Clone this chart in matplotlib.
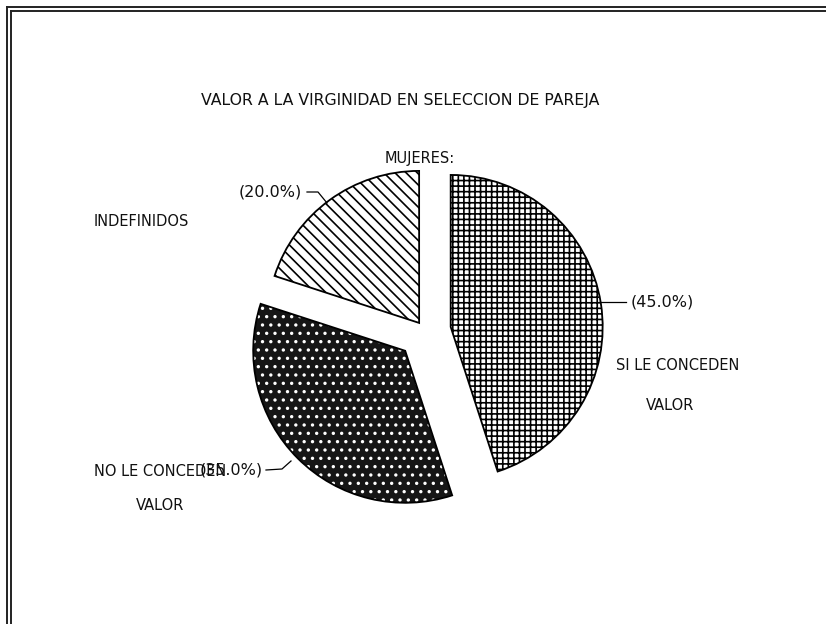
import matplotlib
matplotlib.use("Agg")
import matplotlib.pyplot as plt
from matplotlib.lines import Line2D

plt.rcParams.update({"font.family": "DejaVu Sans", "hatch.linewidth": 1.2})

# Data
categories = ["SI LE CONCEDEN\nVALOR", "NO LE CONCEDEN\nVALOR", "INDEFINIDOS"]
shares = [45.0, 35.0, 20.0]
pct_labels = ["(45.0%)", "(35.0%)", "(20.0%)"]
title = "VALOR A LA VIRGINIDAD EN SELECCION DE PAREJA"
subtitle = "MUJERES:"

W, H = 826, 624
fig = plt.figure(figsize=(W / 100, H / 100), dpi=100)
ax = fig.add_axes([0, 0, 1, 1])


def py(y):  # image row -> data y
    return H - y


center = (425, py(331))
radius = 152
# offsets are in data units (pixels) because pie does not scale them
explode = [26, 28, 10]

wedges, _ = ax.pie(shares, radius=radius, center=center, startangle=90,
                   counterclock=False, explode=explode, frame=True)
styles = [
    dict(facecolor="white", edgecolor="black", hatch="+++"),
    dict(facecolor="#161616", edgecolor="white", hatch=".."),
    dict(facecolor="white", edgecolor="black", hatch="\\\\\\"),
]
for w, st in zip(wedges, styles):
    w.set_facecolor(st["facecolor"])
    w.set_edgecolor(st["edgecolor"])
    w.set_hatch(st["hatch"])
    w.set_linewidth(0)

# outlines on top
ax.pie(shares, radius=radius, center=center, startangle=90,
       counterclock=False, explode=explode, frame=True,
       wedgeprops=dict(fill=False, edgecolor="black", lw=1.3))
ax.set_xlim(0, W)
ax.set_ylim(0, H)
ax.set_aspect("equal")
ax.axis("off")

txt = dict(color="#111111", fontsize=10.5)
ax.text(400, py(101), title, ha="center", va="center", color="#111111",
        fontsize=11.3)
ax.text(420, py(158), subtitle, ha="center", va="center", **txt)

# percentage labels + leader lines
pct = dict(ha="center", va="center", fontsize=11.5, color="#111111")
ax.text(270, py(192), pct_labels[2], **pct)
ax.add_line(Line2D([307, 318, 327], [py(192), py(192), py(203)],
                   color="black", lw=0.9))
ax.text(662, py(302), pct_labels[0], **pct)
ax.add_line(Line2D([599, 626], [py(302), py(302)], color="black", lw=0.9))
ax.text(231, py(470), pct_labels[1], **pct)
ax.add_line(Line2D([266, 282, 291], [py(470), py(469), py(461)],
                   color="black", lw=0.9))

# category labels
ax.text(141, py(222), categories[2], ha="center", va="center", **txt)
l0 = categories[0].split("\n")
ax.text(678, py(365), l0[0], ha="center", va="center", **txt)
ax.text(670, py(405), l0[1], ha="center", va="center", **txt)
l1 = categories[1].split("\n")
ax.text(160, py(471), l1[0], ha="center", va="center", **txt)
ax.text(160, py(505), l1[1], ha="center", va="center", **txt)

# double frame (left and top edges)
for off in (7, 11):
    ax.add_line(Line2D([off, off], [0, py(off)], color="#222222", lw=1.4))
    ax.add_line(Line2D([off, W], [py(off), py(off)], color="#222222", lw=1.4))

fig.savefig("out.png", dpi=100)
